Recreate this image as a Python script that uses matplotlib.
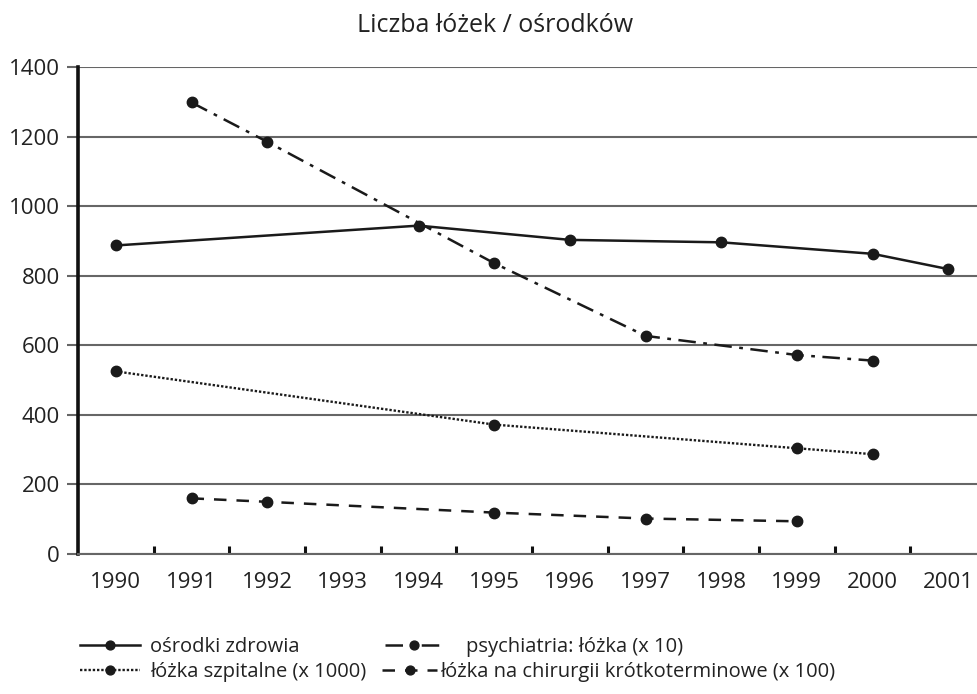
import matplotlib
matplotlib.use("Agg")
import matplotlib.pyplot as plt
from matplotlib.ticker import FixedLocator

plt.rcParams['font.family'] = ['Open Sans', 'DejaVu Sans']

# categories on the x axis
years = ['1990', '1991', '1992', '1993', '1994', '1995', '1996',
         '1997', '1998', '1999', '2000', '2001']

# ośrodki zdrowia
osrodki_years = ['1990', '1994', '1996', '1998', '2000', '2001']
osrodki_vals = [887, 944, 903, 896, 863, 819]

# psychiatria: łóżka (x 10)
psych_years = ['1991', '1992', '1995', '1997', '1999', '2000']
psych_vals = [1298, 1185, 836, 627, 572, 556]

# łóżka szpitalne (x 1000)
szpit_years = ['1990', '1995', '1999', '2000']
szpit_vals = [525, 372, 304, 287]

# łóżka na chirurgii krótkoterminowe (x 100)
chir_years = ['1991', '1992', '1995', '1997', '1999']
chir_vals = [160, 150, 119, 102, 94]

y_ticks = [0, 200, 400, 600, 800, 1000, 1200, 1400]

W, H = 977, 694
fig = plt.figure(figsize=(W / 100, H / 100), dpi=100)
ax = fig.add_axes([78 / W, 1 - 554 / H, 1 - 78 / W, (554 - 67) / H])

pos = {y: i for i, y in enumerate(years)}

mk = dict(marker='o', markersize=7.5, color='#1a1a1a', markeredgecolor='#1a1a1a')
l1, = ax.plot([pos[y] for y in osrodki_years], osrodki_vals, linestyle='-', lw=1.8,
              label='ośrodki zdrowia', **mk)
l2, = ax.plot([pos[y] for y in psych_years], psych_vals, linestyle=(0, (7, 3, 1.5, 3)), lw=1.8,
              label='psychiatria: łóżka (x 10)', **mk)
l3, = ax.plot([pos[y] for y in szpit_years], szpit_vals, linestyle=(0, (1, 0.8)), lw=1.7,
              label='łóżka szpitalne (x 1000)', **mk)
l4, = ax.plot([pos[y] for y in chir_years], chir_vals, linestyle=(0, (5, 4)), lw=1.8,
              label='łóżka na chirurgii krótkoterminowe (x 100)', **mk)

ax.set_ylim(0, 1400)
ax.set_xlim(-0.5, 11.38)
ax.set_yticks(y_ticks)
ax.set_xticks(range(len(years)))
ax.set_xticklabels(years)
ax.xaxis.set_minor_locator(FixedLocator([i + 0.5 for i in range(11)]))

grid_c = '#666666'
ax.yaxis.grid(True, color=grid_c, lw=1.5)
ax.set_axisbelow(True)
for s in ['top', 'right']:
    ax.spines[s].set_visible(False)
ax.spines['left'].set_color('#111111')
ax.spines['left'].set_linewidth(2.6)
ax.spines['bottom'].set_color(grid_c)
ax.spines['bottom'].set_linewidth(1.5)

ax.tick_params(axis='y', length=8, width=1.5, color=grid_c, labelsize=16,
               labelcolor='#222222', pad=5)
ax.tick_params(axis='x', which='major', length=0, labelsize=16,
               labelcolor='#222222', pad=13)
ax.tick_params(axis='x', which='minor', direction='in', length=6, width=2.2,
               color='#111111')

fig.text(495 / W, 1 - 25 / H, 'Liczba łóżek / ośrodków', ha='center', va='center',
         fontsize=18, color='#222222')

# legend entries laid out in two rows, each placed on its own
entries = [
    (l1, 80, 647, 3.0, 0.5),
    (l2, 385, 647, 2.9, 1.1),
    (l3, 80, 672, 3.0, 0.5),
    (l4, 382, 672, 2.75, 0.15),
]
for line, x0, y0, hl, tp in entries:
    fig.legend([line], [line.get_label()], loc='center left',
               bbox_to_anchor=(x0 / W, 1 - y0 / H), frameon=False,
               fontsize=14.5, handlelength=hl, handletextpad=tp,
               borderpad=0, borderaxespad=0, numpoints=1,
               markerscale=0.85, labelcolor='#222222')

fig.savefig('out.png', dpi=100)
